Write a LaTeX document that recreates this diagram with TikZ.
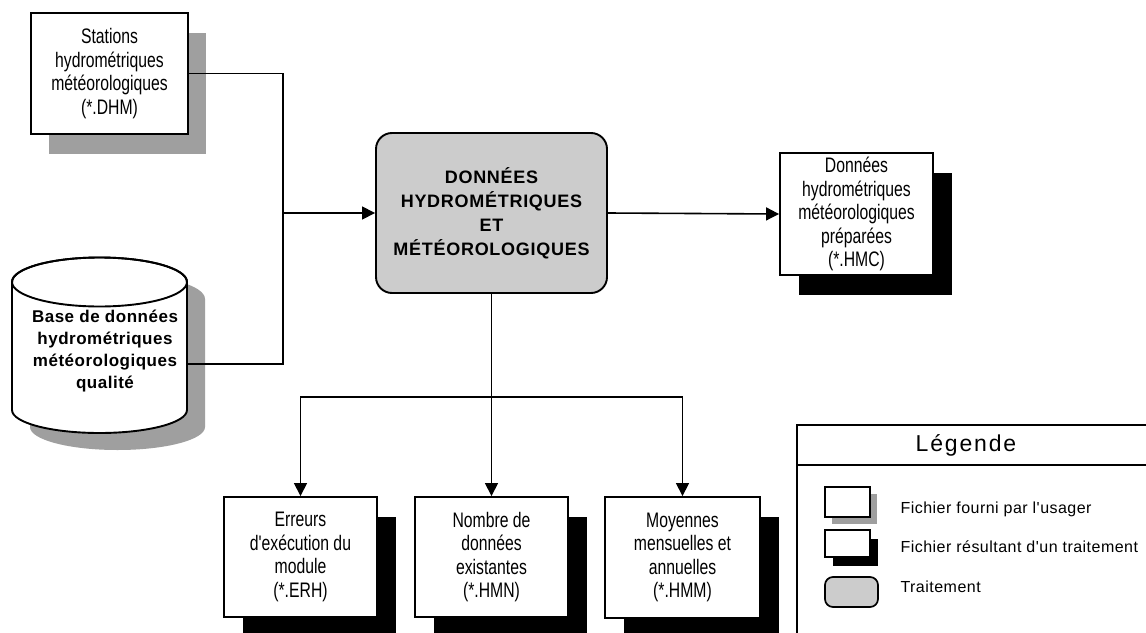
\documentclass[tikz,border=0pt]{standalone}
\usepackage{fontspec}
\setmainfont{Liberation Sans}
\newfontfamily\narrowfont[FakeStretch=0.75]{Liberation Sans}
\newfontfamily\procfont[LetterSpace=4]{Liberation Sans Bold}
\newfontfamily\basefont[LetterSpace=3]{Liberation Sans Bold}
\newfontfamily\legfont[LetterSpace=3]{Liberation Sans}
\newfontfamily\titlefont[LetterSpace=8]{Liberation Sans}
\usetikzlibrary{arrows.meta,shadows}

\tikzset{
  wire/.style={line width=1.6pt},
  arr/.style={line width=1.6pt,-{Triangle[length=13pt,width=13pt]}},
  filebox/.style={draw,line width=1.9pt,fill=white,align=center,inner sep=0pt,
    font=\narrowfont\fontsize{21}{23.5}\selectfont},
  userfile/.style={filebox,
    drop shadow={shadow xshift=18pt,shadow yshift=-20pt,fill=gray!75,opacity=1}},
  resultfile/.style={filebox,
    drop shadow={shadow xshift=19pt,shadow yshift=-20pt,fill=black,opacity=1}},
  procbox/.style={draw,line width=1.9pt,fill=gray!40,rounded corners=16pt,
    align=center,inner sep=0pt,font=\procfont\fontsize{18}{24}\selectfont},
  legtext/.style={anchor=base west,font=\legfont\fontsize{16}{20}\selectfont},
}

\begin{document}
\begin{tikzpicture}[x=1pt,y=-1pt]
\useasboundingbox (0,0) rectangle (1146,632);
\fill[white] (0,0) rectangle (1146,632);

% input files
\node[userfile,minimum width=157pt,minimum height=121pt] (st) at (109.5,73.5)
  {Stations\\hydrométriques\\météorologiques\\(*.DHM)};

% database cylinder: shadow, body, top ellipse
\fill[gray!75] (30,299) -- (30,427) arc(180:360:87.5pt and 23pt)
  -- (205,299) arc(0:180:87.5pt and 24.5pt) -- cycle;
\filldraw[line width=1.9pt,fill=white] (12,282) -- (12,410) arc(180:360:87.5pt and 23pt)
  -- (187,282) arc(0:180:87.5pt and 24.5pt) -- cycle;
\draw[line width=1.9pt] (99.5,282) ellipse [x radius=87.5pt,y radius=24.5pt];
\node[minimum width=175pt,minimum height=175pt,inner sep=0pt,align=center,
  font=\basefont\fontsize{17}{22}\selectfont] (cyl) at (105,351)
  {Base de données\\hydrométriques\\météorologiques\\qualité};

% processing step
\node[procbox,minimum width=231pt,minimum height=160pt] (proc) at (491.5,213)
  {DONNÉES\\HYDROMÉTRIQUES\\ET\\MÉTÉOROLOGIQUES};

% output files
\node[resultfile,minimum width=153pt,minimum height=122pt] (hmc) at (856.5,214)
  {Données\\hydrométriques\\météorologiques\\préparées\\(*.HMC)};
\node[resultfile,minimum width=153pt,minimum height=120pt] (err) at (300.5,557)
  {Erreurs\\d'exécution du\\module\\(*.ERH)};
\node[resultfile,minimum width=153pt,minimum height=120pt] (nb) at (491.5,557)
  {Nombre de\\données\\existantes\\(*.HMN)};
\node[resultfile,minimum width=155pt,minimum height=121pt] (moy) at (682.5,557.5)
  {Moyennes\\mensuelles et\\annuelles\\(*.HMM)};

% connectors
\coordinate (jn) at (283,213);
\coordinate (jn2) at (283,364);
\coordinate (br) at (491.5,397);
\draw[wire] (st.east) -| (jn2) -- (jn2 -| 187,0);
\draw[arr] (jn) -- (proc.west);
\draw[arr] (proc.east) -- (hmc.west);
\draw[wire] (proc.south) -- (br);
\draw[arr] (br) -| (err.north);
\draw[arr] (br) -- (nb.north);
\draw[arr] (br) -| (moy.north);

% legend
\draw[line width=1.9pt] (1160,425) -- (797,425) -- (797,650);
\draw[line width=1.9pt] (797,465) -- (1160,465);
\node[font=\titlefont\fontsize{23}{26}\selectfont] (legt) at (966,445) {Légende};
\node[draw,line width=1.7pt,fill=white,minimum width=45pt,minimum height=30pt,
  drop shadow={shadow xshift=7pt,shadow yshift=-7pt,fill=gray!75,opacity=1}]
  (ic1) at (847.5,502) {};
\node[draw,line width=1.7pt,fill=white,minimum width=45pt,minimum height=27pt,
  drop shadow={shadow xshift=8pt,shadow yshift=-9pt,fill=black,opacity=1}]
  (ic2) at (847.5,543.5) {};
\node[draw,line width=1.7pt,fill=gray!40,rounded corners=8pt,
  minimum width=53pt,minimum height=30pt] (ic3) at (851.5,592) {};
\node[legtext] (lt1) at (897,513) {Fichier fourni par l'usager};
\node[legtext] (lt2) at (897,552) {Fichier résultant d'un traitement};
\node[legtext] (lt3) at (897,592) {Traitement};
\end{tikzpicture}
\end{document}
